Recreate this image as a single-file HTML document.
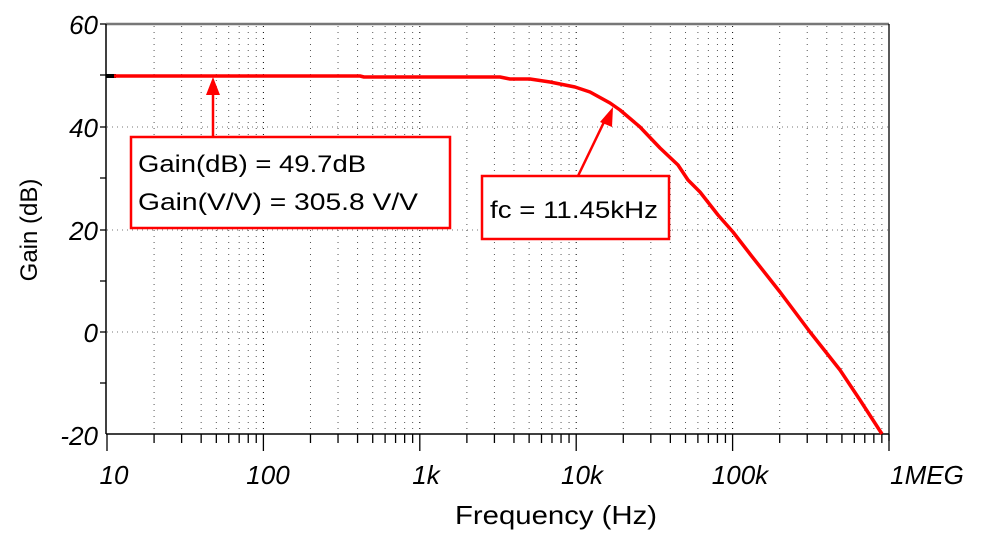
<!DOCTYPE html>
<html><head><meta charset="utf-8"><style>body{margin:0;background:#fff}</style></head><body>
<svg width="984" height="545" xmlns="http://www.w3.org/2000/svg" font-family="Liberation Sans, sans-serif">
<rect width="984" height="545" fill="#fff"/>
<g stroke="#777" stroke-width="1" stroke-dasharray="1,4">
<line x1="107" y1="127" x2="889" y2="127"/><line x1="107" y1="230" x2="889" y2="230"/><line x1="107" y1="332" x2="889" y2="332"/>
</g>
<g id="grid" stroke="#555" stroke-width="1" stroke-dasharray="1,5"></g>
<g id="ticks" stroke="#000" stroke-width="1.3"></g>
<line x1="106" y1="24" x2="889" y2="24" stroke="#777" stroke-width="2.5"/>
<line x1="889" y1="24" x2="889" y2="441" stroke="#000" stroke-width="1.3"/>
<line x1="106" y1="24" x2="106" y2="434" stroke="#000" stroke-width="1.5"/>
<line x1="106" y1="434" x2="889" y2="434" stroke="#000" stroke-width="1.5"/>
<g stroke="#000" stroke-width="1.3">
<line x1="100" y1="24" x2="106" y2="24"/><line x1="100" y1="75" x2="106" y2="75"/><line x1="100" y1="127" x2="106" y2="127"/><line x1="100" y1="178" x2="106" y2="178"/><line x1="100" y1="230" x2="106" y2="230"/><line x1="100" y1="281" x2="106" y2="281"/><line x1="100" y1="332" x2="106" y2="332"/><line x1="100" y1="383" x2="106" y2="383"/>
</g>
<g font-size="26" font-style="italic" text-anchor="end" fill="#000">
<text x="98" y="34">60</text><text x="98" y="137">40</text><text x="98" y="240">20</text><text x="98" y="342">0</text><text x="98" y="445">-20</text>
</g>
<g font-size="26" font-style="italic" text-anchor="middle" fill="#000">
<text x="114" y="484">10</text><text x="268" y="484">100</text><text x="426" y="484">1k</text><text x="582" y="484">10k</text><text x="740" y="484">100k</text><text x="927" y="484">1MEG</text>
</g>
<text x="455" y="524" font-size="26" textLength="202" lengthAdjust="spacingAndGlyphs">Frequency (Hz)</text>
<text transform="translate(37,230) rotate(-90)" font-size="24" text-anchor="middle">Gain (dB)</text>
<line x1="106" y1="76" x2="116" y2="76" stroke="#000" stroke-width="4"/>
<polyline fill="none" stroke="#f00" stroke-width="3.5" stroke-linejoin="round" points="114,76 360,76 364,77 500,77 510,79 530,79 550,82 575,87 590,92 610,103 620,110 640,127 660,148 678,165 688,180 700,192 718,215 733,232 750,254 780,292 810,332 840,370 860,400 882,434"/>
<g stroke="#f00" stroke-width="2.5" fill="#fff">
<line x1="213" y1="137" x2="213" y2="92"/>
<line x1="578" y1="176" x2="605" y2="120"/>
<rect x="131" y="137" width="319" height="91"/>
<rect x="482" y="176" width="187" height="63"/>
</g>
<polygon points="213,77 206,95 220,95" fill="#f00"/>
<polygon points="613,107 600,122 612,127" fill="#f00"/>
<g font-size="24" fill="#000">
<text x="138" y="172" textLength="228" lengthAdjust="spacingAndGlyphs">Gain(dB) = 49.7dB</text>
<text x="138" y="210" textLength="280" lengthAdjust="spacingAndGlyphs">Gain(V/V) = 305.8 V/V</text>
<text x="490" y="218" textLength="168" lengthAdjust="spacingAndGlyphs">fc = 11.45kHz</text>
</g>
<script>
var g=document.getElementById('grid'),t=document.getElementById('ticks'),ns='http://www.w3.org/2000/svg';
var x0=107,d=156.4;
for(var k=0;k<5;k++)for(var m=2;m<=10;m++){var x=x0+d*(k+Math.log10(m));
var l=document.createElementNS(ns,'line');l.setAttribute('x1',x);l.setAttribute('x2',x);l.setAttribute('y1',26);l.setAttribute('y2',433);if(m==10)l.setAttribute('stroke','#000');g.appendChild(l);
var q=document.createElementNS(ns,'line');q.setAttribute('x1',x);q.setAttribute('x2',x);q.setAttribute('y1',434);q.setAttribute('y2',m==10?451:443);t.appendChild(q);}
var q=document.createElementNS(ns,'line');q.setAttribute('x1',107);q.setAttribute('x2',107);q.setAttribute('y1',434);q.setAttribute('y2',451);t.appendChild(q);
</script>
</svg>
</body></html>
